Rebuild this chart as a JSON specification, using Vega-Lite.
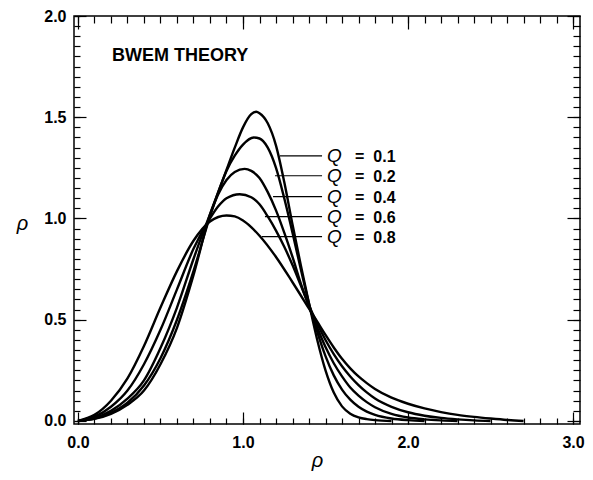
{
  "$schema": "https://vega.github.io/schema/vega-lite/v6.json",
  "width": 506,
  "height": 408,
  "autosize": {"type": "none"},
  "padding": {"left": 74, "top": 16, "right": 13, "bottom": 56},
  "background": "white",
  "config": {
    "view": {"stroke": "black", "strokeWidth": 1.5},
    "axis": {"grid": false, "domain": false, "tickColor": "black", "tickWidth": 1.2, "labelFont": "Liberation Sans", "labelFontWeight": "bold", "labelFontSize": 16, "labelColor": "black", "titleFont": "Liberation Sans", "titleFontStyle": "italic", "titleFontWeight": "normal", "titleFontSize": 20, "titleColor": "black"}
  },
  "datasets": {
    "curves": [
      {"Q":"0.1","r":0,"p":0},{"Q":"0.1","r":0.1,"p":0.01},{"Q":"0.1","r":0.2,"p":0.035},{"Q":"0.1","r":0.3,"p":0.08},{"Q":"0.1","r":0.4,"p":0.15},{"Q":"0.1","r":0.5,"p":0.28},{"Q":"0.1","r":0.6,"p":0.46},{"Q":"0.1","r":0.7,"p":0.72},{"Q":"0.1","r":0.8,"p":1.02},{"Q":"0.1","r":0.85,"p":1.13},{"Q":"0.1","r":0.9,"p":1.24},{"Q":"0.1","r":0.95,"p":1.35},{"Q":"0.1","r":1.0,"p":1.45},{"Q":"0.1","r":1.05,"p":1.515},{"Q":"0.1","r":1.08,"p":1.527},{"Q":"0.1","r":1.1,"p":1.52},{"Q":"0.1","r":1.15,"p":1.47},{"Q":"0.1","r":1.2,"p":1.36},{"Q":"0.1","r":1.25,"p":1.18},{"Q":"0.1","r":1.3,"p":0.97},{"Q":"0.1","r":1.35,"p":0.77},{"Q":"0.1","r":1.4,"p":0.58},{"Q":"0.1","r":1.45,"p":0.4},{"Q":"0.1","r":1.5,"p":0.25},{"Q":"0.1","r":1.55,"p":0.14},{"Q":"0.1","r":1.6,"p":0.072},{"Q":"0.1","r":1.65,"p":0.036},{"Q":"0.1","r":1.7,"p":0.018},{"Q":"0.1","r":1.75,"p":0.009},{"Q":"0.1","r":1.8,"p":0.004},{"Q":"0.1","r":1.9,"p":0},
      {"Q":"0.2","r":0,"p":0},{"Q":"0.2","r":0.1,"p":0.012},{"Q":"0.2","r":0.2,"p":0.04},{"Q":"0.2","r":0.3,"p":0.09},{"Q":"0.2","r":0.4,"p":0.175},{"Q":"0.2","r":0.5,"p":0.31},{"Q":"0.2","r":0.6,"p":0.5},{"Q":"0.2","r":0.7,"p":0.74},{"Q":"0.2","r":0.8,"p":1.01},{"Q":"0.2","r":0.85,"p":1.13},{"Q":"0.2","r":0.9,"p":1.235},{"Q":"0.2","r":0.95,"p":1.31},{"Q":"0.2","r":1.0,"p":1.365},{"Q":"0.2","r":1.065,"p":1.4},{"Q":"0.2","r":1.1,"p":1.395},{"Q":"0.2","r":1.15,"p":1.35},{"Q":"0.2","r":1.2,"p":1.25},{"Q":"0.2","r":1.25,"p":1.1},{"Q":"0.2","r":1.3,"p":0.93},{"Q":"0.2","r":1.35,"p":0.75},{"Q":"0.2","r":1.4,"p":0.58},{"Q":"0.2","r":1.45,"p":0.44},{"Q":"0.2","r":1.5,"p":0.32},{"Q":"0.2","r":1.55,"p":0.225},{"Q":"0.2","r":1.6,"p":0.155},{"Q":"0.2","r":1.65,"p":0.105},{"Q":"0.2","r":1.7,"p":0.07},{"Q":"0.2","r":1.75,"p":0.046},{"Q":"0.2","r":1.8,"p":0.03},{"Q":"0.2","r":1.9,"p":0.012},{"Q":"0.2","r":2.0,"p":0.004},{"Q":"0.2","r":2.1,"p":0},
      {"Q":"0.4","r":0,"p":0},{"Q":"0.4","r":0.1,"p":0.015},{"Q":"0.4","r":0.2,"p":0.05},{"Q":"0.4","r":0.3,"p":0.11},{"Q":"0.4","r":0.4,"p":0.2},{"Q":"0.4","r":0.5,"p":0.36},{"Q":"0.4","r":0.6,"p":0.56},{"Q":"0.4","r":0.7,"p":0.8},{"Q":"0.4","r":0.8,"p":1.02},{"Q":"0.4","r":0.85,"p":1.12},{"Q":"0.4","r":0.9,"p":1.19},{"Q":"0.4","r":0.95,"p":1.23},{"Q":"0.4","r":1.01,"p":1.245},{"Q":"0.4","r":1.05,"p":1.235},{"Q":"0.4","r":1.1,"p":1.2},{"Q":"0.4","r":1.15,"p":1.13},{"Q":"0.4","r":1.2,"p":1.04},{"Q":"0.4","r":1.25,"p":0.93},{"Q":"0.4","r":1.3,"p":0.81},{"Q":"0.4","r":1.35,"p":0.68},{"Q":"0.4","r":1.4,"p":0.565},{"Q":"0.4","r":1.45,"p":0.46},{"Q":"0.4","r":1.5,"p":0.365},{"Q":"0.4","r":1.55,"p":0.285},{"Q":"0.4","r":1.6,"p":0.22},{"Q":"0.4","r":1.65,"p":0.165},{"Q":"0.4","r":1.7,"p":0.125},{"Q":"0.4","r":1.75,"p":0.093},{"Q":"0.4","r":1.8,"p":0.068},{"Q":"0.4","r":1.9,"p":0.035},{"Q":"0.4","r":2.0,"p":0.017},{"Q":"0.4","r":2.1,"p":0.008},{"Q":"0.4","r":2.2,"p":0.003},{"Q":"0.4","r":2.3,"p":0},
      {"Q":"0.6","r":0,"p":0},{"Q":"0.6","r":0.1,"p":0.02},{"Q":"0.6","r":0.2,"p":0.07},{"Q":"0.6","r":0.3,"p":0.15},{"Q":"0.6","r":0.4,"p":0.28},{"Q":"0.6","r":0.5,"p":0.45},{"Q":"0.6","r":0.6,"p":0.65},{"Q":"0.6","r":0.7,"p":0.85},{"Q":"0.6","r":0.8,"p":1.0},{"Q":"0.6","r":0.85,"p":1.06},{"Q":"0.6","r":0.9,"p":1.1},{"Q":"0.6","r":0.98,"p":1.12},{"Q":"0.6","r":1.05,"p":1.105},{"Q":"0.6","r":1.1,"p":1.07},{"Q":"0.6","r":1.15,"p":1.01},{"Q":"0.6","r":1.2,"p":0.94},{"Q":"0.6","r":1.25,"p":0.86},{"Q":"0.6","r":1.3,"p":0.77},{"Q":"0.6","r":1.35,"p":0.67},{"Q":"0.6","r":1.4,"p":0.57},{"Q":"0.6","r":1.45,"p":0.48},{"Q":"0.6","r":1.5,"p":0.4},{"Q":"0.6","r":1.55,"p":0.33},{"Q":"0.6","r":1.6,"p":0.27},{"Q":"0.6","r":1.65,"p":0.22},{"Q":"0.6","r":1.7,"p":0.177},{"Q":"0.6","r":1.75,"p":0.141},{"Q":"0.6","r":1.8,"p":0.111},{"Q":"0.6","r":1.9,"p":0.07},{"Q":"0.6","r":2.0,"p":0.043},{"Q":"0.6","r":2.1,"p":0.026},{"Q":"0.6","r":2.2,"p":0.015},{"Q":"0.6","r":2.3,"p":0.008},{"Q":"0.6","r":2.4,"p":0.003},{"Q":"0.6","r":2.5,"p":0},
      {"Q":"0.8","r":0,"p":0},{"Q":"0.8","r":0.1,"p":0.03},{"Q":"0.8","r":0.2,"p":0.1},{"Q":"0.8","r":0.3,"p":0.21},{"Q":"0.8","r":0.4,"p":0.37},{"Q":"0.8","r":0.5,"p":0.56},{"Q":"0.8","r":0.6,"p":0.74},{"Q":"0.8","r":0.7,"p":0.89},{"Q":"0.8","r":0.8,"p":0.985},{"Q":"0.8","r":0.9,"p":1.015},{"Q":"0.8","r":0.95,"p":1.01},{"Q":"0.8","r":1.0,"p":0.99},{"Q":"0.8","r":1.1,"p":0.915},{"Q":"0.8","r":1.2,"p":0.81},{"Q":"0.8","r":1.3,"p":0.685},{"Q":"0.8","r":1.4,"p":0.555},{"Q":"0.8","r":1.45,"p":0.49},{"Q":"0.8","r":1.5,"p":0.425},{"Q":"0.8","r":1.55,"p":0.363},{"Q":"0.8","r":1.6,"p":0.307},{"Q":"0.8","r":1.65,"p":0.26},{"Q":"0.8","r":1.7,"p":0.22},{"Q":"0.8","r":1.75,"p":0.187},{"Q":"0.8","r":1.8,"p":0.158},{"Q":"0.8","r":1.9,"p":0.115},{"Q":"0.8","r":2.0,"p":0.085},{"Q":"0.8","r":2.1,"p":0.062},{"Q":"0.8","r":2.2,"p":0.044},{"Q":"0.8","r":2.3,"p":0.03},{"Q":"0.8","r":2.4,"p":0.02},{"Q":"0.8","r":2.5,"p":0.012},{"Q":"0.8","r":2.6,"p":0.005},{"Q":"0.8","r":2.7,"p":0}
    ],
    "labels": [
      {"Q":"0.1","label":"=\u00a0\u00a00.1","y":1.309,"x0":1.224,"x1":1.479},
      {"Q":"0.2","label":"=\u00a0\u00a00.2","y":1.211,"x0":1.194,"x1":1.479},
      {"Q":"0.4","label":"=\u00a0\u00a00.4","y":1.108,"x0":1.182,"x1":1.479},
      {"Q":"0.6","label":"=\u00a0\u00a00.6","y":1.009,"x0":1.133,"x1":1.479},
      {"Q":"0.8","label":"=\u00a0\u00a00.8","y":0.91,"x0":1.115,"x1":1.479}
    ]
  },
  "layer": [
    {
      "layer": [
        {
          "data": {"name": "curves"},
          "mark": {"type": "line", "interpolate": "monotone", "color": "black", "strokeWidth": 2.4},
          "encoding": {
            "x": {"field": "r", "type": "quantitative", "scale": {"domain": [-0.024, 3.042], "nice": false, "zero": false},
              "axis": {"orient": "bottom", "values": [0, 1, 2, 3], "format": ".1f", "tickSize": -12, "labelPadding": 22, "title": "ρ", "titleX": 243, "titleY": 36, "titleBaseline": "middle", "titleAlign": "center"}},
            "y": {"field": "p", "type": "quantitative", "scale": {"domain": [-0.015, 2.0], "nice": false, "zero": false},
              "axis": {"orient": "left", "values": [0, 0.5, 1, 1.5, 2], "format": ".1f", "tickSize": -12, "labelPadding": 20, "title": "ρ", "titleAngle": 0, "titleX": -52, "titleY": 207, "titleBaseline": "middle", "titleAlign": "center"}},
            "detail": {"field": "Q", "type": "nominal"}
          }
        },
        {
          "data": {"name": "labels"},
          "mark": {"type": "rule", "color": "black", "strokeWidth": 1.2},
          "encoding": {
            "x": {"field": "x0", "type": "quantitative"},
            "x2": {"field": "x1"},
            "y": {"field": "y", "type": "quantitative"}
          }
        },
        {
          "data": {"name": "labels"},
          "mark": {"type": "text", "text": "Q", "font": "Liberation Sans", "fontStyle": "italic", "fontSize": 19, "align": "left", "baseline": "middle", "color": "black"},
          "encoding": {
            "x": {"datum": 1.509},
            "y": {"field": "y", "type": "quantitative"}
          }
        },
        {
          "data": {"name": "labels"},
          "mark": {"type": "text", "font": "Liberation Sans", "fontWeight": "bold", "fontSize": 16, "align": "left", "baseline": "middle", "dy": 1, "color": "black"},
          "encoding": {
            "x": {"datum": 1.679},
            "y": {"field": "y", "type": "quantitative"},
            "text": {"field": "label"}
          }
        },
        {
          "data": {"values": [{"t": "BWEM THEORY"}]},
          "mark": {"type": "text", "font": "Liberation Sans", "fontWeight": "bold", "fontSize": 18, "align": "left", "baseline": "middle", "color": "black"},
          "encoding": {
            "x": {"datum": 0.206},
            "y": {"datum": 1.8025},
            "text": {"field": "t"}
          }
        }
      ]
    },
    {
      "data": {"name": "curves"},
      "mark": {"type": "point", "opacity": 0},
      "encoding": {
        "x": {"field": "r", "type": "quantitative", "scale": {"domain": [-0.024, 3.042], "nice": false, "zero": false},
          "axis": {"orient": "bottom", "values": [0,0.1,0.2,0.3,0.4,0.5,0.6,0.7,0.8,0.9,1,1.1,1.2,1.3,1.4,1.5,1.6,1.7,1.8,1.9,2,2.1,2.2,2.3,2.4,2.5,2.6,2.7,2.8,2.9,3], "tickSize": -6, "labels": false, "title": null}},
        "y": {"field": "p", "type": "quantitative", "scale": {"domain": [-0.015, 2.0], "nice": false, "zero": false},
          "axis": {"orient": "left", "values": [0,0.05,0.1,0.15,0.2,0.25,0.3,0.35,0.4,0.45,0.5,0.55,0.6,0.65,0.7,0.75,0.8,0.85,0.9,0.95,1,1.05,1.1,1.15,1.2,1.25,1.3,1.35,1.4,1.45,1.5,1.55,1.6,1.65,1.7,1.75,1.8,1.85,1.9,1.95,2], "tickSize": -6, "labels": false, "title": null}}
      }
    },
    {
      "data": {"name": "curves"},
      "mark": {"type": "point", "opacity": 0},
      "encoding": {
        "x": {"field": "r", "type": "quantitative", "scale": {"domain": [-0.024, 3.042], "nice": false, "zero": false},
          "axis": {"orient": "top", "values": [0, 1, 2, 3], "tickSize": -13, "labels": false, "title": null}},
        "y": {"field": "p", "type": "quantitative", "scale": {"domain": [-0.015, 2.0], "nice": false, "zero": false},
          "axis": {"orient": "right", "values": [0, 0.5, 1, 1.5, 2], "tickSize": -13, "labels": false, "title": null}}
      }
    },
    {
      "data": {"name": "curves"},
      "mark": {"type": "point", "opacity": 0},
      "encoding": {
        "x": {"field": "r", "type": "quantitative", "scale": {"domain": [-0.024, 3.042], "nice": false, "zero": false},
          "axis": {"orient": "top", "values": [0,0.1,0.2,0.3,0.4,0.5,0.6,0.7,0.8,0.9,1,1.1,1.2,1.3,1.4,1.5,1.6,1.7,1.8,1.9,2,2.1,2.2,2.3,2.4,2.5,2.6,2.7,2.8,2.9,3], "tickSize": -7, "labels": false, "title": null}},
        "y": {"field": "p", "type": "quantitative", "scale": {"domain": [-0.015, 2.0], "nice": false, "zero": false},
          "axis": {"orient": "right", "values": [0,0.05,0.1,0.15,0.2,0.25,0.3,0.35,0.4,0.45,0.5,0.55,0.6,0.65,0.7,0.75,0.8,0.85,0.9,0.95,1,1.05,1.1,1.15,1.2,1.25,1.3,1.35,1.4,1.45,1.5,1.55,1.6,1.65,1.7,1.75,1.8,1.85,1.9,1.95,2], "tickSize": -7, "labels": false, "title": null}}
      }
    }
  ],
  "resolve": {"scale": {"x": "independent", "y": "independent"}}
}
